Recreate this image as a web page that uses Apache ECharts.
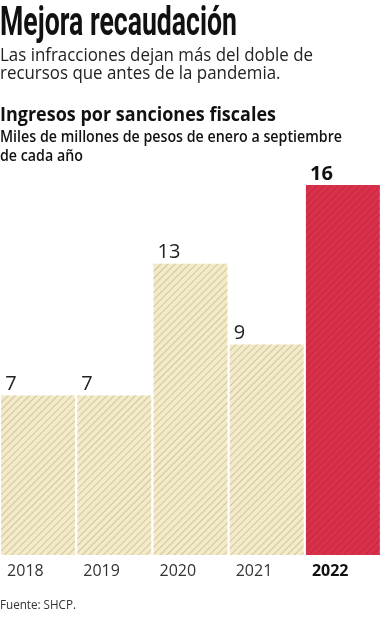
<!DOCTYPE html>
<html>
<head>
<meta charset="utf-8">
<script src="https://cdn.jsdelivr.net/npm/echarts@6/dist/echarts.min.js"></script>
<style>
html,body{margin:0;padding:0;background:#fff;}
#chart{width:381px;height:620px;}
</style>
</head>
<body>
<div id="chart"></div>
<script>
// ---- data ----
const years = ['2018', '2019', '2020', '2021', '2022'];
const values = [6.9, 6.9, 12.6, 9.1, 16.0];
const highlightYear = '2022';

const titleText = 'Mejora recaudación';
const subtitleLines = ['Las infracciones dejan más del doble de', 'recursos que antes de la pandemia.'];
const chartTitle = 'Ingresos por sanciones fiscales';
const unitLines = ['Miles de millones de pesos de enero a septiembre', 'de cada año'];
const sourceText = 'Fuente: SHCP.';

// ---- helpers ----
const ctx = document.createElement('canvas').getContext('2d');
function fitScale(text, font, target) {
  ctx.font = font;
  const w = ctx.measureText(text).width;
  return target / w;
}
function textEl(text, firstLine, font, x, y, target, fill, lineHeight) {
  const s = fitScale(firstLine, font, target);
  return {
    type: 'text', x: x, y: y, scaleX: s, scaleY: 1,
    style: { text: text, font: font, fill: fill, align: 'left', verticalAlign: 'top', lineHeight: lineHeight }
  };
}

const beige = '#f3ebc8';
const beigeStripe = '#cfc69f';
const red = '#d9314b';
const redStripe = '#c4283f';

const data = values.map((v, i) => {
  const hi = years[i] === highlightYear;
  return {
    value: v,
    itemStyle: {
      color: hi ? red : beige,
      decal: { symbol: 'rect', symbolSize: 1, dashArrayX: [1, 0], dashArrayY: [1, 4], rotation: -Math.PI / 4, color: hi ? redStripe : beigeStripe }
    },
    label: { fontWeight: hi ? 'bold' : 'normal', color: hi ? '#111' : '#222' }
  };
});

const chart = echarts.init(document.getElementById('chart'));
chart.setOption({
  animation: false,
  backgroundColor: '#fff',
  grid: { left: 0, right: 0, top: 185, bottom: 65 },
  xAxis: {
    type: 'category',
    data: years,
    axisLine: { show: false },
    axisTick: { show: false },
    axisLabel: {
      interval: 0,
      margin: 8,
      formatter: v => v === highlightYear ? '{b|' + v + '}' : '{a|' + v + '}',
      rich: {
        a: { width: 62, align: 'left', fontFamily: 'Open Sans', fontSize: 16, color: '#333' },
        b: { width: 62, align: 'left', fontFamily: 'Open Sans', fontSize: 16, fontWeight: 'bold', color: '#111' }
      }
    }
  },
  yAxis: { type: 'value', min: 0, max: 16, show: false, splitLine: { show: false } },
  series: [{
    type: 'bar',
    data: data,
    barCategoryGap: '3%',
    label: {
      show: true,
      position: [4, -1],
      align: 'left',
      verticalAlign: 'bottom',
      fontFamily: 'Open Sans',
      fontSize: 20,
      formatter: p => String(Math.round(p.value))
    }
  }],
  graphic: [
    textEl(titleText, titleText, 'bold 40px Roboto', 0, 5, 237, '#111', 40),
    textEl(subtitleLines.join('\n'), subtitleLines[0], '18px "Open Sans"', 0, 47, 313, '#222', 18),
    textEl(chartTitle, chartTitle, 'bold 20px "Open Sans"', 0, 105, 276, '#111', 20),
    textEl(unitLines.join('\n'), unitLines[0], '600 16px "Open Sans"', 0, 128, 342, '#111', 19),
    textEl(sourceText, sourceText, '13px "Open Sans"', 0, 599, 76, '#333', 13)
  ]
});
</script>
</body>
</html>
